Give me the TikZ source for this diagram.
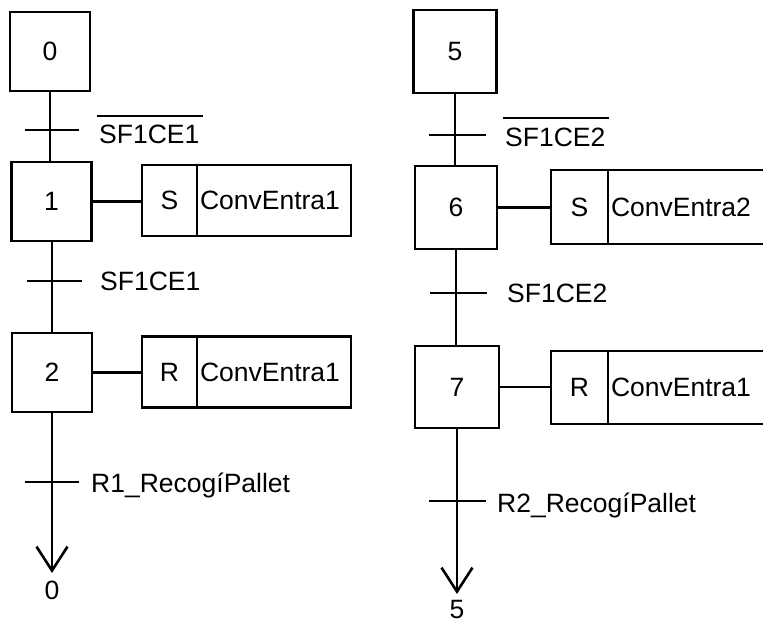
\documentclass[tikz,border=0pt]{standalone}
\usepackage{fontspec}
\setmainfont{Liberation Sans}
\usetikzlibrary{arrows.meta}
\begin{document}
\begin{tikzpicture}[x=1pt,y=-1pt,
  txt/.style={font=\fontsize{26.5}{32}\selectfont},
  stepbox/.style={txt,draw,line width=2.6pt,minimum width=80pt,minimum height=79pt,inner sep=0pt},
  qualbox/.style={txt,draw,line width=2.4pt,minimum width=55pt,minimum height=71pt,inner sep=0pt,outer sep=0pt},
  namebox/.style={txt,draw,line width=2.4pt,minimum height=71pt,inner ysep=0pt,inner xsep=3pt,outer sep=0pt,align=left,text width=148pt},
  lab/.style={txt,inner sep=0pt,anchor=base west},
  link/.style={line width=2.6pt},
  thin/.style={line width=2pt},
  bar/.style={line width=2.6pt},
  endarrow/.style={-{Straight Barb[length=24pt,width=31pt,line width=2.6pt]}}
]
\useasboundingbox (0,0) rectangle (763,624);
\clip (0,0) rectangle (763,624);

% ---------------- left sequence ----------------
\node[stepbox] (s0) at (50,51.5) {0};
\node[stepbox] (s1) at (51.5,201.5) {1};
\node[stepbox] (s2) at (52,372.5) {2};

\node[qualbox,anchor=west] (q1) at (142,200.5) {S};
\node[namebox,anchor=west] (n1) at (q1.east) {ConvEntra1};
\node[qualbox,anchor=west] (q2) at (142,372) {R};
\node[namebox,anchor=west] (n2) at (q2.east) {ConvEntra1};

\coordinate (t1) at (50,130);
\coordinate (t2) at (51.5,281);
\coordinate (t3) at (52,482);
\coordinate (e1) at (52,573);

\draw[link] (s0.south) -- (s0.south |- s1.north);
\draw[thin] (s1.south) -- (s1.south |- s2.north);
\draw[link,endarrow] (s2.south) -- (e1);

\draw[bar] ([xshift=-25pt]t1) -- ([xshift=29pt]t1);
\draw[bar] ([xshift=-25pt]t2) -- ([xshift=30pt]t2);
\draw[bar] ([xshift=-27pt]t3) -- ([xshift=27pt]t3);

\draw[link] (s1.east) -- (q1.west |- s1.east);
\draw[link] (s2.east) -- (q2.west |- s2.east);

\node[lab] (l1) at (99,143) {SF1CE1};
\draw[line width=2pt] ([xshift=-2pt,yshift=8pt]l1.north west) -- ([xshift=3pt,yshift=8pt]l1.north east);
\node[lab] (l2) at (100,290) {SF1CE1};
\node[lab] (l3) at (91,492) {R1\_RecogíPallet};
\node[txt,inner sep=0pt] (d1) at (52,590) {0};

% ---------------- right sequence ----------------
\node[stepbox,minimum width=83pt,minimum height=83pt] (s5) at (455,51.5) {5};
\node[stepbox,minimum width=82pt,minimum height=83pt] (s6) at (456,207.5) {6};
\node[stepbox,minimum width=84pt,minimum height=82pt] (s7) at (457,387) {7};

\node[qualbox,minimum width=57pt,minimum height=74pt,anchor=west] (q3) at (551,207) {S};
\node[namebox,text width=165pt,minimum height=74pt,anchor=west] (n3) at (q3.east) {ConvEntra2};
\node[qualbox,minimum width=57pt,minimum height=73pt,anchor=west] (q4) at (551,387.5) {R};
\node[namebox,text width=165pt,minimum height=73pt,anchor=west] (n4) at (q4.east) {ConvEntra1};

\coordinate (t5) at (455,135);
\coordinate (t6) at (456,293);
\coordinate (t7) at (457,501);
\coordinate (e5) at (457,594);

\draw[link] (s5.south) -- (s5.south |- s6.north);
\draw[link] (s6.south) -- (s6.south |- s7.north);
\draw[thin,endarrow] (s7.south) -- (e5);

\draw[bar] ([xshift=-26pt]t5) -- ([xshift=31pt]t5);
\draw[bar] ([xshift=-26pt]t6) -- ([xshift=31pt]t6);
\draw[bar] ([xshift=-28pt]t7) -- ([xshift=29pt]t7);

\draw[link] (s6.east) -- (q3.west |- s6.east);
\draw[thin] (s7.east) -- (q4.west |- s7.east);

\node[lab] (l5) at (505,146) {SF1CE2};
\draw[line width=2pt] ([xshift=-2pt,yshift=9pt]l5.north west) -- ([xshift=3pt,yshift=9pt]l5.north east);
\node[lab] (l6) at (507,302) {SF1CE2};
\node[lab] (l7) at (497,512) {R2\_RecogíPallet};
\node[txt,inner sep=0pt] (d5) at (457,610) {5};
\end{tikzpicture}
\end{document}
